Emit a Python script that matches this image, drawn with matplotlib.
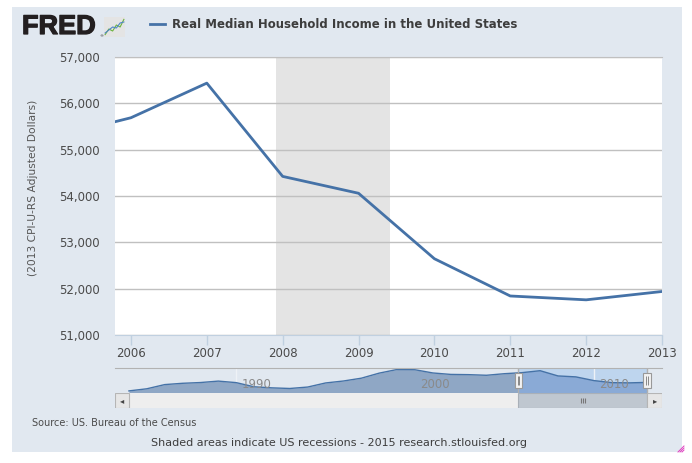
import matplotlib
matplotlib.use("Agg")
import matplotlib.pyplot as plt
import matplotlib.patheffects as pe
from matplotlib.patches import Rectangle
from matplotlib.lines import Line2D
from matplotlib.ticker import FuncFormatter, MultipleLocator

# === Data (2013 CPI-U-RS dollars) ===
years = list(range(1984, 2014))
income = [48664, 49479, 51091, 51590, 51880, 52432, 51845, 50249, 49836, 49594,
          50148, 51719, 52471, 53551, 55497, 56895, 56800, 55562, 55003, 54913,
          54674, 55278, 55689, 56436, 54423, 54059, 52646, 51842, 51759, 51939]
recession = (2007.917, 2009.417)
view = (2005.79, 2013.0)          # zoomed window shown in the main chart
nav_range = (1983.22, 2013.82)    # navigator x range incl. scrollbar buttons
main_ticks = list(range(2006, 2014))
nav_ticks = [1990, 2000, 2010]
y_range = (51000, 57000)
nav_y = (47860, 57470)

# logo icon squiggles
icon_green = [0.12, 0.4, 0.3, 0.6, 0.5, 0.88]
icon_blue = [0.2, 0.35, 0.5, 0.45, 0.7, 0.75]

BG = '#e1e8f0'
LINE = '#4572a7'
TXT = '#4a4a4a'

W, H = 692, 463


def fx(px):
    return px / W


def fy(py):
    return 1 - py / H


fig = plt.figure(figsize=(W / 100, H / 100), dpi=100)
fig.patch.set_facecolor('white')
fig.patches.append(Rectangle((fx(12), fy(452)), fx(682) - fx(12), fy(7) - fy(452),
                             transform=fig.transFigure, facecolor=BG,
                             edgecolor='none', zorder=-5))

# === Main chart ===
ax = fig.add_axes([fx(115), fy(335), fx(662) - fx(115), fy(57) - fy(335)])
ax.set_facecolor('white')
ax.axvspan(*recession, color='#e4e4e4', lw=0, zorder=0.2)
ax.plot(years, income, color=LINE, lw=2, zorder=3, solid_joinstyle='round')
ax.set_xlim(view)
ax.set_ylim(y_range)
ax.set_xticks(main_ticks)
ax.yaxis.set_major_locator(MultipleLocator(1000))
ax.yaxis.set_major_formatter(FuncFormatter(lambda v, p: f'{int(v):,}'))
ax.set_axisbelow(True)
ax.grid(axis='y', color='#c0c0c0', lw=1)
for s in ['left', 'right']:
    ax.spines[s].set_visible(False)
ax.spines['top'].set_color('#c0c0c0')
ax.spines['bottom'].set_color('#c0d0e0')
ax.tick_params(axis='x', direction='out', length=7, width=1, color='#c0d0e0',
               labelsize=8.5, labelcolor=TXT, pad=1.5)
ax.tick_params(axis='y', length=0, labelsize=8.5, labelcolor=TXT, pad=11)

fig.text(fx(33), fy(188), '(2013 CPI-U-RS Adjusted Dollars)', rotation=90,
         ha='center', va='center', fontsize=7.7, color='#555555')

# === Navigator ===
nav = fig.add_axes([fx(115), fy(393), fx(662) - fx(115), fy(368) - fy(393)])
nav.set_facecolor(BG)
nav.set_xlim(nav_range)
nav.set_ylim(nav_y)
nav.axvspan(*view, color='#bed5ee', lw=0, zorder=0.2)
for t in nav_ticks:
    nav.axvline(t, color='#eef2f6', lw=1, zorder=0.3)
nav.fill_between(years, income, nav_y[0], color='#8fa7c5', lw=0, zorder=1)
sel = nav.fill_between(years, income, nav_y[0], color='#8aaad6', lw=0, zorder=1.1)
sel.set_clip_path(Rectangle((view[0], nav_y[0]), view[1] - view[0],
                            nav_y[1] - nav_y[0], transform=nav.transData))
nav.plot(years, income, color=LINE, lw=1, zorder=2)
for edge in view:
    nav.axvline(edge, color='#b0b0b0', lw=1, zorder=2.5)
for t in nav_ticks:
    nav.text(t + 0.28, 0.36, str(t), transform=nav.get_xaxis_transform(),
             ha='left', va='center', fontsize=8.5, color='#8a8a8a', zorder=3)
for edge in view:
    nav.add_patch(Rectangle((edge - 0.22, 0.21), 0.44, 0.6,
                            transform=nav.get_xaxis_transform(),
                            facecolor='#f2f2f2', edgecolor='#999999', lw=0.8,
                            zorder=4, clip_on=False))
    nav.vlines([edge - 0.05, edge + 0.05], 0.34, 0.68,
               transform=nav.get_xaxis_transform(), color='#777777', lw=0.6,
               zorder=5, clip_on=False)
nav.set_xticks([])
nav.set_yticks([])
for s in ['left', 'right', 'bottom']:
    nav.spines[s].set_visible(False)
nav.spines['top'].set_color('#b2b2b2')

# === Scrollbar ===
sb = fig.add_axes([fx(115), fy(408), fx(662) - fx(115), fy(393) - fy(408)])
sb.set_facecolor('#eeeeee')
sb.set_xlim(nav_range)
sb.set_ylim(0, 1)
sb.add_patch(Rectangle((view[0], 0), view[1] - view[0], 1,
                       facecolor='#bfc7d0', edgecolor='#a9b0b8', lw=0.8))
mid = sum(view) / 2
sb.vlines([mid - 0.11, mid, mid + 0.11], 0.32, 0.68, color='#777777', lw=0.8)
sb.add_patch(Rectangle((nav_range[0], 0), years[0] - nav_range[0], 1,
                       facecolor='#e6e6e6', edgecolor='#b5b5b5', lw=0.8))
sb.add_patch(Rectangle((years[-1], 0), nav_range[1] - years[-1], 1,
                       facecolor='#e6e6e6', edgecolor='#b5b5b5', lw=0.8))
sb.text((nav_range[0] + years[0]) / 2, 0.5, '\u25c2', ha='center', va='center',
        fontsize=6, color='#444444')
sb.text((nav_range[1] + years[-1]) / 2, 0.5, '\u25b8', ha='center', va='center',
        fontsize=6, color='#444444')
sb.set_xticks([])
sb.set_yticks([])
for s in sb.spines.values():
    s.set_visible(False)

# === Header: logo + legend ===
fig.text(fx(22), fy(27), 'FRED', fontsize=19.5, weight='bold',
         family='Liberation Sans', color='#231f20', va='center', ha='left',
         path_effects=[pe.withStroke(linewidth=0.9, foreground='#231f20')])
fig.text(fx(99), fy(36), '\u00ae', fontsize=3, color='#231f20', va='center')
icon = fig.add_axes([fx(104), fy(37), fx(125) - fx(104), fy(17) - fy(37)])
icon.set_facecolor('#e4e4e4')
icon.plot(range(len(icon_green)), icon_green, color='#6db33f', lw=0.8)
icon.plot(range(len(icon_blue)), icon_blue, color='#4f86c6', lw=0.8)
icon.set_xlim(-0.3, len(icon_green) - 0.7)
icon.set_ylim(0, 1)
icon.set_xticks([])
icon.set_yticks([])
for s in icon.spines.values():
    s.set_visible(False)

fig.add_artist(Line2D([fx(150), fx(165)], [fy(24), fy(24)], color=LINE, lw=2))
fig.text(fx(172), fy(24), 'Real Median Household Income in the United States',
         fontsize=8.5, weight='bold', color='#3d3d3d', va='center', ha='left')

# === Footer ===
fig.text(fx(32), fy(423), 'Source: US. Bureau of the Census', fontsize=7,
         color=TXT, va='center', ha='left')
fig.text(fx(339), fy(443),
         'Shaded areas indicate US recessions - 2015 research.stlouisfed.org',
         fontsize=8, color='#3d3d3d', va='center', ha='center')

# little resize grip in the corner
for d in (2, 4, 6):
    fig.add_artist(Line2D([fx(684 - d), fx(684)], [fy(452), fy(452 - d)],
                          color='#e040c0', lw=0.7))

fig.savefig('out.png', dpi=100, facecolor=fig.get_facecolor())
